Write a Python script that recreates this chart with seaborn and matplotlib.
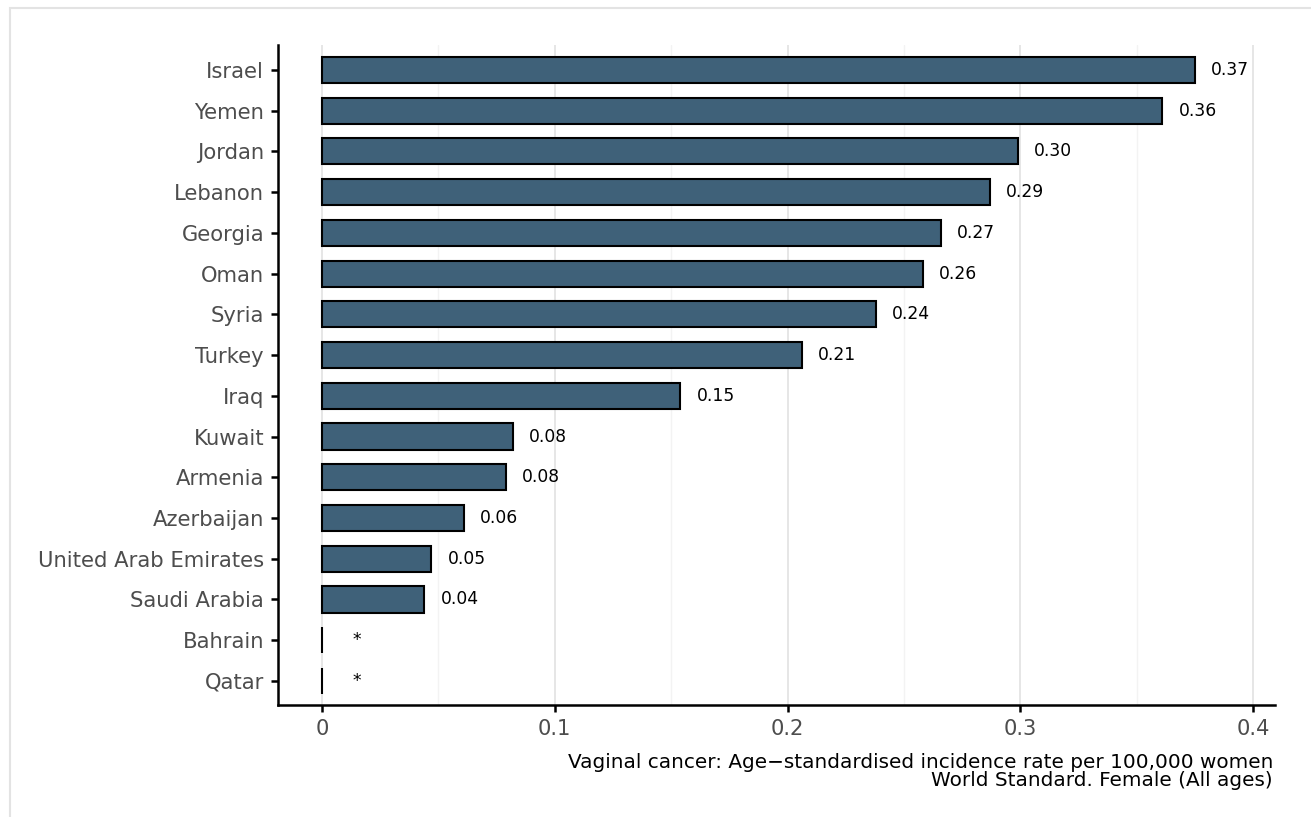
import matplotlib
matplotlib.use("Agg")
import matplotlib.pyplot as plt
import seaborn as sns
import pandas as pd
from matplotlib.patches import Rectangle
from matplotlib.ticker import MultipleLocator

countries = ["Israel", "Yemen", "Jordan", "Lebanon", "Georgia", "Oman", "Syria",
             "Turkey", "Iraq", "Kuwait", "Armenia", "Azerbaijan",
             "United Arab Emirates", "Saudi Arabia", "Bahrain", "Qatar"]
rates = [0.375, 0.361, 0.299, 0.287, 0.266, 0.258, 0.238, 0.206, 0.154,
         0.082, 0.079, 0.061, 0.047, 0.044, 0.0, 0.0]
labels = ["0.37", "0.36", "0.30", "0.29", "0.27", "0.26", "0.24", "0.21", "0.15",
          "0.08", "0.08", "0.06", "0.05", "0.04", "*", "*"]
x_ticks = [0, 0.1, 0.2, 0.3, 0.4]
x_ticklabels = ["0", "0.1", "0.2", "0.3", "0.4"]
caption = ["Vaginal cancer: Age\u2212standardised incidence rate per 100,000 women",
           "World Standard. Female (All ages)"]

df = pd.DataFrame({"country": countries, "rate": rates})

sns.set_theme(style="white")
plt.rcParams['font.family'] = ['DejaVu Sans']

W, H = 1311, 817
fig = plt.figure(figsize=(W / 100, H / 100), dpi=100)
ax = fig.add_axes([278 / W, 1 - 705 / H, (1275 - 278) / W, (705 - 45) / H])

# outer light frame
fig.patches.append(Rectangle((10 / W, -0.05), 1.2, 1 - 8 / H + 0.05,
                             transform=fig.transFigure, fill=False,
                             edgecolor="#E3E3E3", linewidth=1.5, zorder=0))

sns.barplot(data=df, x="rate", y="country", order=countries, orient="h",
            color="#3F6179", saturation=1, edgecolor="black", linewidth=1.5,
            width=0.64, ax=ax, zorder=3)

ax.set_xlim(-0.0189, 0.4094)
ax.set_ylim(15.59, -0.61)

ax.xaxis.set_major_locator(MultipleLocator(0.1))
ax.xaxis.set_minor_locator(MultipleLocator(0.05))
ax.set_xticks(x_ticks)
ax.set_xticklabels(x_ticklabels)
ax.grid(axis="x", which="major", color="#E6E6E6", linewidth=1.4, zorder=0)
ax.grid(axis="x", which="minor", color="#F3F3F3", linewidth=1.0, zorder=0)
ax.grid(axis="y", visible=False)
ax.set_axisbelow(True)

for s in ["top", "right"]:
    ax.spines[s].set_visible(False)
for s in ["left", "bottom"]:
    ax.spines[s].set_color("black")
    ax.spines[s].set_linewidth(1.8)

ax.tick_params(axis="both", which="major", length=5, width=1.8, color="black",
               labelsize=15.2, labelcolor="#4D4D4D", pad=5, bottom=True, left=True)
ax.tick_params(axis="x", which="major", pad=5)
ax.tick_params(axis="x", which="minor", length=0)
ax.set_xlabel("")
ax.set_ylabel("")

for i, (v, lab) in enumerate(zip(rates, labels)):
    if lab == "*":
        ax.text(0.0151, i, lab, ha="center", va="center", fontsize=12.3, color="black")
    else:
        ax.text(v + 0.0069, i, lab, ha="left", va="center", fontsize=12.3, color="black")

fig.text(1273 / W, 1 - 762 / H, caption[0], ha="right", va="center", fontsize=14.4, color="black")
fig.text(1273 / W, 1 - 780 / H, caption[1], ha="right", va="center", fontsize=14.4, color="black")

fig.savefig("out.png", dpi=100, facecolor="white")
